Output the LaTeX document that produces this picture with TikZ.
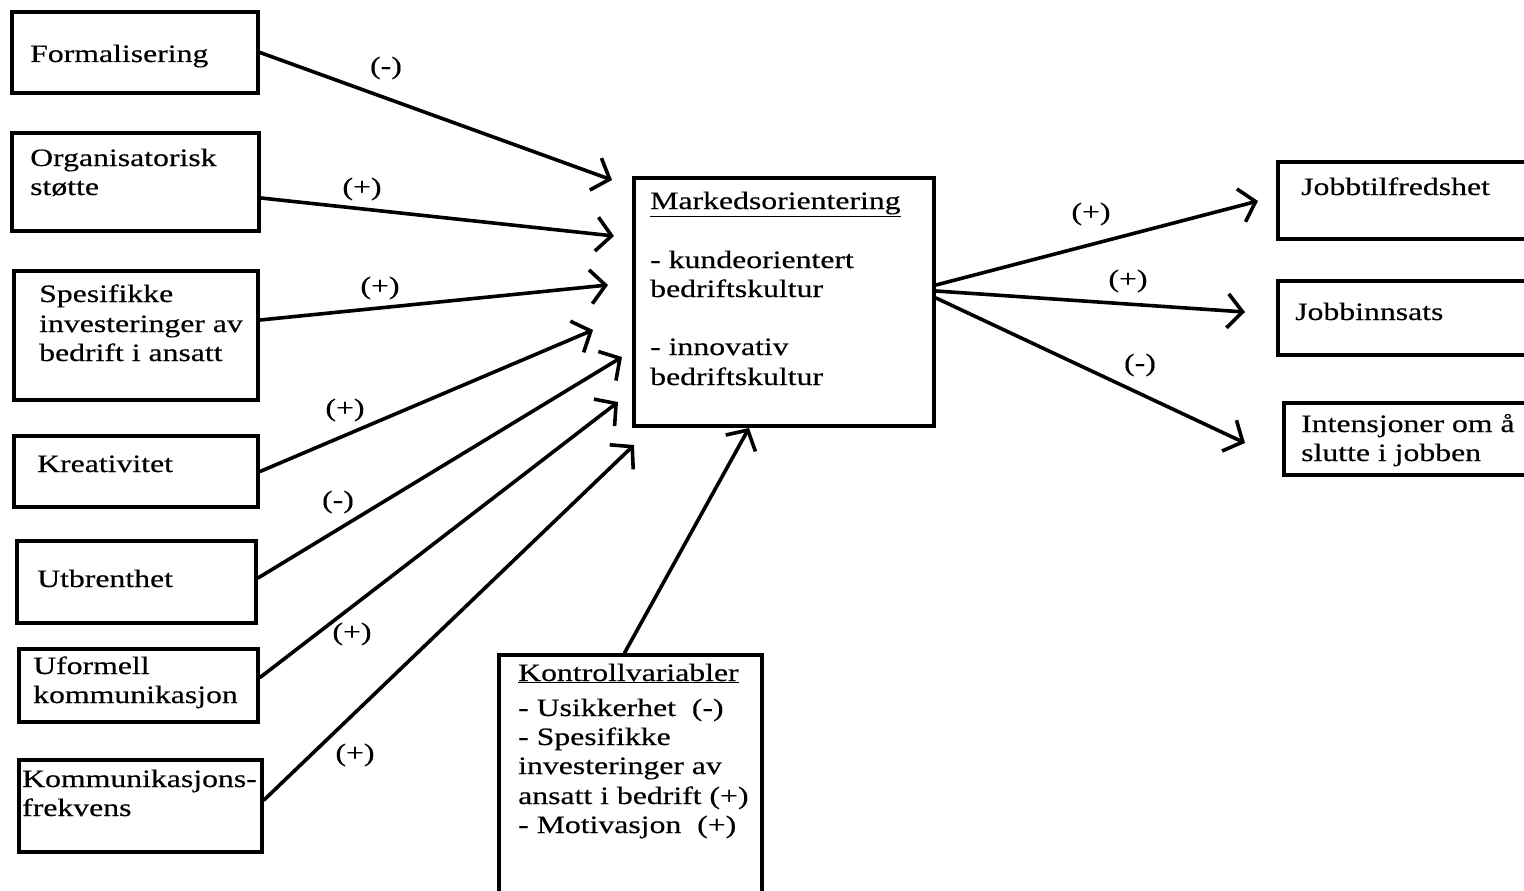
\documentclass[tikz,border=0pt]{standalone}
\usepackage{fontspec}
\setmainfont{Liberation Serif}[FakeStretch=1.27,FakeBold=0.4]
\usetikzlibrary{arrows.meta,calc}
\begin{document}
\begin{tikzpicture}[x=1pt,y=-1pt,
  box/.style={draw, rectangle, line width=4pt, inner sep=0pt},
  txt/.style={font=\fontsize{25}{29}\selectfont, inner sep=0pt, anchor=base west},
  lab/.style={font=\fontsize{25}{29}\selectfont, inner sep=0pt},
  arr/.style={line width=3.6pt, line cap=round, -{Straight Barb[length=15pt,width=34pt,line width=3.6pt]}}]
\useasboundingbox (0,0) rectangle (1524,891);
\fill[white] (0,0) rectangle (1524,891);
\clip (0,0) rectangle (1524,891);

% boxes
\node[box, minimum width=246pt, minimum height=81pt]  (form)  at (135,52.5) {};
\node[box, minimum width=247pt, minimum height=98pt]  (org)   at (135.5,182) {};
\node[box, minimum width=244pt, minimum height=129pt] (spes)  at (136,335.5) {};
\node[box, minimum width=244pt, minimum height=71pt]  (kreat) at (136,471.5) {};
\node[box, minimum width=239pt, minimum height=82pt]  (utbr)  at (136.5,582) {};
\node[box, minimum width=239pt, minimum height=73pt]  (ufor)  at (138.5,685.5) {};
\node[box, minimum width=243pt, minimum height=92pt]  (kfrek) at (140.5,806) {};
\node[box, minimum width=300pt, minimum height=248pt] (mark)  at (784,302) {};
\node[box, minimum width=263pt, minimum height=250pt] (kon)   at (630.5,780) {};
\node[box, minimum width=262pt, minimum height=77pt]  (jt)    at (1409,200.5) {};
\node[box, minimum width=262pt, minimum height=74pt]  (ji)    at (1409,318) {};
\node[box, minimum width=256pt, minimum height=72pt]  (int)   at (1412,439) {};

% texts
\node[txt] (formT) at (30,62) {Formalisering};
\node[txt] (orgT1) at (30,166) {Organisatorisk};
\node[txt] (orgT2) at (30,195) {støtte};
\node[txt] (spesT1) at (39,302) {Spesifikke};
\node[txt] (spesT2) at (39,332) {investeringer av};
\node[txt] (spesT3) at (39,361) {bedrift i ansatt};
\node[txt] (kreatT) at (37,472) {Kreativitet};
\node[txt] (utbrT) at (37,587) {Utbrenthet};
\node[txt] (uforT1) at (33,674) {Uformell};
\node[txt] (uforT2) at (33,703) {kommunikasjon};
\node[txt] (kfrekT1) at (22,787) {Kommunikasjons-};
\node[txt] (kfrekT2) at (22,816) {frekvens};
\node[txt] (markT1) at (650,209) {\underline{Markedsorientering}};
\node[txt] (markT2) at (650,268) {- kundeorientert};
\node[txt] (markT3) at (650,297) {bedriftskultur};
\node[txt] (markT4) at (650,355) {- innovativ};
\node[txt] (markT5) at (650,385) {bedriftskultur};
\node[txt] (konT1) at (518,681) {\underline{Kontrollvariabler}};
\node[txt] (konT2) at (518,716) {- Usikkerhet\ \ (-)};
\node[txt] (konT3) at (518,745) {- Spesifikke};
\node[txt] (konT4) at (518,774) {investeringer av};
\node[txt] (konT5) at (518,804) {ansatt i bedrift (+)};
\node[txt] (konT6) at (518,833) {- Motivasjon\ \ (+)};
\node[txt] (jtT) at (1301,195) {Jobbtilfredshet};
\node[txt] (jiT) at (1295,320) {Jobbinnsats};
\node[txt] (intT1) at (1301,432) {Intensjoner om å};
\node[txt] (intT2) at (1301,461) {slutte i jobben};

% arrow tips (free ends)
\coordinate (t1) at (612,180);
\coordinate (t2) at (614,236);
\coordinate (t3) at (608,285);
\coordinate (t4) at (593,330);
\coordinate (t5) at (622,357);
\coordinate (t6) at (618,402);
\coordinate (t7) at (634,445);
\coordinate (t8) at (749,428);
\coordinate (t9) at (1258,201);
\coordinate (t10) at (1245,312);
\coordinate (t11) at (1245,443);

% connectors
\draw[arr] (form.east) -- (t1);
\draw[arr] ([yshift=-16pt]org.east) -- (t2);
\draw[arr] ([yshift=15.5pt]spes.east) -- (t3);
\draw[arr] (kreat.east) -- (t4);
\draw[arr] ([yshift=4pt]utbr.east) -- (t5);
\draw[arr] ([yshift=8pt]ufor.east) -- (t6);
\draw[arr] ([yshift=6pt]kfrek.east) -- (t7);
\draw[arr] ([xshift=-6pt]kon.north) -- (t8);
\draw[arr] ([yshift=17pt]mark.east) -- (t9);
\draw[arr] ([yshift=11pt]mark.east) -- (t10);
\draw[arr] ([yshift=4pt]mark.east) -- (t11);

% signs
\node[lab] (l1) at (386,68) {(-)};
\node[lab] (l2) at (362,189) {(+)};
\node[lab] (l3) at (380,288) {(+)};
\node[lab] (l4) at (345,410) {(+)};
\node[lab] (l5) at (338,502) {(-)};
\node[lab] (l6) at (352,634) {(+)};
\node[lab] (l7) at (355,755) {(+)};
\node[lab] (l8) at (1091,214) {(+)};
\node[lab] (l9) at (1128,281) {(+)};
\node[lab] (l10) at (1140,365) {(-)};
\end{tikzpicture}
\end{document}
